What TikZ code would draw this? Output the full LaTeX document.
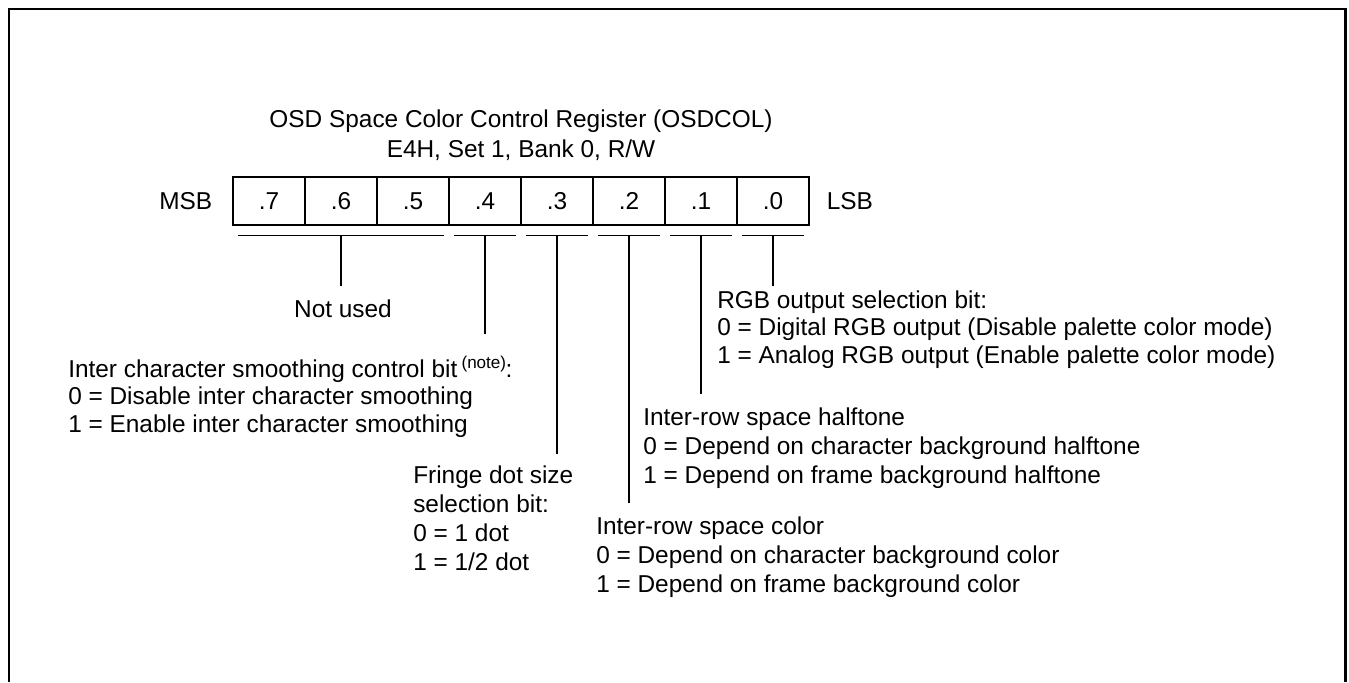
\documentclass[tikz,border=0pt]{standalone}
\usepackage{fontspec}
\setmainfont{Liberation Sans}
\usetikzlibrary{positioning}
\newcommand{\regfont}{\fontsize{18.3}{21.75}\selectfont}
\tikzset{
  reg cell/.style={draw, line width=0.8pt, minimum width=54pt, minimum height=36pt, inner sep=0pt, font=\regfont},
  reg tag/.style={font=\regfont, inner sep=0pt},
  bit brace/.style={line width=0.8pt},
  bit lead/.style={line width=0.8pt},
  bit note/.style={font=\regfont, align=left, anchor=base west, inner sep=0pt},
}

\begin{document}
\begin{tikzpicture}[x=0.75pt, y=-0.75pt]
  \useasboundingbox (0,0) rectangle (1349,682);
  % outer frame, open at the bottom
  \draw[line width=2pt] (9,682) -- (9,9) -- (1345.5,9) -- (1345.5,682);
  % title (node base = last line)
  \node[reg tag, align=center, anchor=base, font=\fontsize{18.3}{22.5}\selectfont] (title) at (521,157)
    {OSD Space Color Control Register (OSDCOL)\\E4H, Set 1, Bank 0, R/W};
  % register cells
  \foreach \b [count=\i from 0] in {7,...,0}
    \node[reg cell] (b\b) at (269+72*\i,201) {.\b};
  \node[reg tag, left=15pt of b7] (msb) {MSB};
  \node[reg tag, right=12.75pt of b0] (lsb) {LSB};
  % field brackets under the cells
  \foreach \l/\r in {b7/b5, b4/b4, b3/b3, b2/b2, b1/b1, b0/b0}
    \draw[bit brace] ([xshift=4.5pt, yshift=-7.5pt]\l.south west) -- ([xshift=-4.5pt, yshift=-7.5pt]\r.south east);
  % leads from the brackets down to the notes
  \foreach \n/\len in {b6/50, b4/98, b3/218, b2/267, b1/158, b0/50} {
    \coordinate (\n top) at ([yshift=-7.5pt]\n.south);
    \coordinate (\n end) at ([yshift=-7.5pt-0.75pt*\len]\n.south);
    \draw[bit lead] (\n top) -- (\n end);
  }
  % notes (each placed at the baseline of its last line)
  \node[reg tag, anchor=base] (unused) at (343,317) {Not used};
  \node[bit note, font=\fontsize{18.3}{20.6}\selectfont] (smooth) at (68,432)
    {Inter character smoothing control bit\,\textsuperscript{(note)}\kern-1pt:\\
     0 = Disable inter character smoothing\\
     1 = Enable inter character smoothing};
  \node[bit note] (fringe) at (413,570)
    {Fringe dot size\\selection bit:\\0 = 1 dot\\1 = 1/2 dot};
  \node[bit note] (rowcol) at (596,592)
    {Inter-row space color\\
     0 = Depend on character background color\\
     1 = Depend on frame background color};
  \node[bit note] (rowhalf) at (643,483)
    {Inter-row space halftone\\
     0 = Depend on character background halftone\\
     1 = Depend on frame background halftone};
  \node[bit note, font=\fontsize{18.3}{20.6}\selectfont] (rgb) at (717,363)
    {RGB output selection bit:\\
     0 = Digital RGB output (Disable palette color mode)\\
     1 = Analog RGB output (Enable palette color mode)};
\end{tikzpicture}
\end{document}
